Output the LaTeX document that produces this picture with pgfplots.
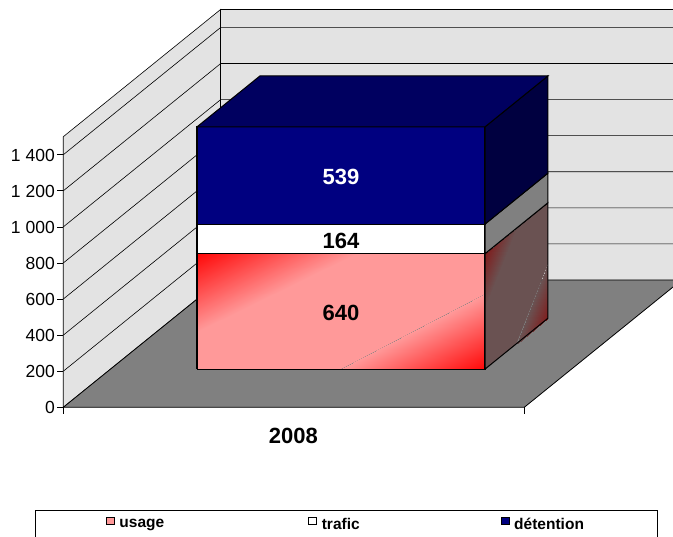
\documentclass[border=0pt]{standalone}
\usepackage{fontspec}
\setmainfont{Liberation Sans}
\usepackage{pgfplots}
\pgfplotsset{compat=1.18}
\usepgfplotslibrary{patchplots}
\definecolor{wallc}{RGB}{227,227,227}
\definecolor{floorc}{RGB}{128,128,128}
\definecolor{blueF}{RGB}{0,0,128}
\definecolor{blueT}{RGB}{0,0,96}
\definecolor{blueS}{RGB}{0,0,64}
\definecolor{pinkc}{RGB}{255,153,153}
\definecolor{sidec}{RGB}{106,82,82}
\begin{document}
\begin{tikzpicture}[x=1pt,y=1pt]
\useasboundingbox (0,0) rectangle (673pt,537pt);
\clip (0,0) rectangle (673pt,537pt);
\begin{axis}[
  at={(63.3pt,129.7pt)},anchor=south west,
  x={(1pt,0pt)},y={(157.4pt,127.3pt)},z={(0pt,0.1804pt)},
  xmin=0,xmax=461,ymin=0,ymax=1,zmin=0,zmax=1500,
  clip=false,
  axis line style={draw=none},
  xtick=\empty,ytick=\empty,
  ztick={0,200,400,600,800,1000,1200,1400},
  major tick length=0pt,
  z tick label style={anchor=east,xshift=-5pt,yshift=-0.5pt},
  ticklabel style={font=\fontsize{17.5}{20}\selectfont},
  /pgf/number format/assume math mode=true,
  /pgf/number format/1000 sep={\ },
  legend columns=3,
  legend cell align=left,
  legend style={at={(axis cs:282.7,0,-650)},anchor=center,draw=black,line width=0.7pt,
    inner xsep=71pt,inner ysep=6pt,font=\fontsize{15.5}{18}\selectfont\bfseries},
]
% legend images
\addlegendimage{legend image code/.code={\draw[fill=pinkc,draw=black,line width=0.9pt] (0,-7pt) rectangle (14pt,7pt);}}
\addlegendimage{legend image code/.code={\draw[fill=white,draw=black,line width=0.9pt] (0,-7pt) rectangle (14pt,7pt);}}
\addlegendimage{legend image code/.code={\draw[fill=blueF,draw=black,line width=0.9pt] (0,-7pt) rectangle (14pt,7pt);}}
% walls
\addplot3[forget plot,fill=wallc,draw=black,line width=0.6pt] coordinates {(0,0,0)(0,1,0)(0,1,1500)(0,0,1500)(0,0,0)};
\addplot3[forget plot,fill=wallc,draw=black,line width=0.6pt] coordinates {(0,1,0)(461,1,0)(461,1,1500)(0,1,1500)(0,1,0)};
% gridlines and value ticks
\foreach \v in {200,400,600,800,1000,1200,1400}{
  \edef\tmp{\noexpand\addplot3[forget plot,black,line width=0.6pt] coordinates {(0,0,\v)(0,1,\v)(461,1,\v)};}\tmp
}
\foreach \v in {0,200,400,600,800,1000,1200,1400}{
  \edef\tmp{\noexpand\addplot3[forget plot,black,line width=0.7pt] coordinates {(-6,0,\v)(0,0,\v)};}\tmp
}
% floor
\addplot3[forget plot,fill=floorc,draw=black,line width=0.8pt] coordinates {(0,0,0)(461,0,0)(461,1,0)(0,1,0)(0,0,0)};
% x ticks
\addplot3[forget plot,black,line width=0.7pt] coordinates {(0,0,0)(0,0,-38)};
\addplot3[forget plot,black,line width=0.7pt] coordinates {(461,0,0)(461,0,-38)};
% usage : front face, pink band and two red corners
\addplot3[forget plot,fill=pinkc,draw=none] coordinates {(86.5,0.3,0)(230.5,0.3,0)(374.5,0.3,416)(374.5,0.3,640)(245,0.3,640)(86.5,0.3,205)(86.5,0.3,0)};
\addplot3[forget plot,patch,patch type=triangle,shader=interp,point meta=explicit,point meta min=0,point meta max=1,
  colormap={usageF}{rgb255=(255,153,153) rgb255=(255,8,8)}] coordinates {
  (86.5,0.3,205)[0] (245,0.3,640)[0] (86.5,0.3,640)[1]
  (230.5,0.3,0)[0] (374.5,0.3,416)[0] (374.5,0.3,0)[1]};
\addplot3[forget plot,draw=black,line width=1.1pt] coordinates {(86.5,0.3,0)(374.5,0.3,0)(374.5,0.3,640)(86.5,0.3,640)(86.5,0.3,0)};
% usage : side face
\addplot3[forget plot,fill=sidec,draw=none] coordinates {(374.5,0.3,0)(374.5,0.5,0)(374.5,0.7,300)(374.5,0.7,640)(374.5,0.5,640)(374.5,0.3,340)(374.5,0.3,0)};
\addplot3[forget plot,patch,patch type=triangle,shader=interp,point meta=explicit,point meta min=0,point meta max=1,
  colormap={usageS}{rgb255=(106,82,82) rgb255=(128,28,28)}] coordinates {
  (374.5,0.3,340)[0] (374.5,0.5,640)[0] (374.5,0.3,640)[1]
  (374.5,0.5,0)[0] (374.5,0.7,300)[0] (374.5,0.7,0)[1]};
\addplot3[forget plot,draw=black,line width=1pt] coordinates {(374.5,0.3,0)(374.5,0.7,0)(374.5,0.7,640)(374.5,0.3,640)(374.5,0.3,0)};
% trafic
\addplot3[forget plot,fill=white,draw=black,line width=1.1pt] coordinates {(86.5,0.3,640)(374.5,0.3,640)(374.5,0.3,804)(86.5,0.3,804)(86.5,0.3,640)};
\addplot3[forget plot,fill=floorc,draw=black,line width=1pt] coordinates {(374.5,0.3,640)(374.5,0.7,640)(374.5,0.7,804)(374.5,0.3,804)(374.5,0.3,640)};
% detention
\addplot3[forget plot,fill=blueF,draw=black,line width=1.1pt] coordinates {(86.5,0.3,804)(374.5,0.3,804)(374.5,0.3,1343)(86.5,0.3,1343)(86.5,0.3,804)};
\addplot3[forget plot,fill=blueS,draw=black,line width=1pt] coordinates {(374.5,0.3,804)(374.5,0.7,804)(374.5,0.7,1343)(374.5,0.3,1343)(374.5,0.3,804)};
\addplot3[forget plot,fill=blueT,draw=black,line width=1pt] coordinates {(86.5,0.3,1343)(374.5,0.3,1343)(374.5,0.7,1343)(86.5,0.7,1343)(86.5,0.3,1343)};
% labels
\node[font=\fontsize{22}{24}\selectfont\bfseries,text=black] at (axis cs:230.5,0.3,312) {640};
\node[font=\fontsize{22}{24}\selectfont\bfseries,text=black] at (axis cs:230.5,0.3,712) {164};
\node[font=\fontsize{22}{24}\selectfont\bfseries,text=white] at (axis cs:230.5,0.3,1067) {539};
\node[font=\fontsize{22}{24}\selectfont\bfseries] at (axis cs:230,0,-158) {2008};
% legend
\addlegendentry{\hspace*{2.5pt}\makebox[187pt][l]{usage}}
\addlegendentry{\hspace*{2.5pt}\makebox[177pt][l]{trafic}}
\addlegendentry{\hspace*{2.5pt}détention}
\end{axis}
\end{tikzpicture}
\end{document}
